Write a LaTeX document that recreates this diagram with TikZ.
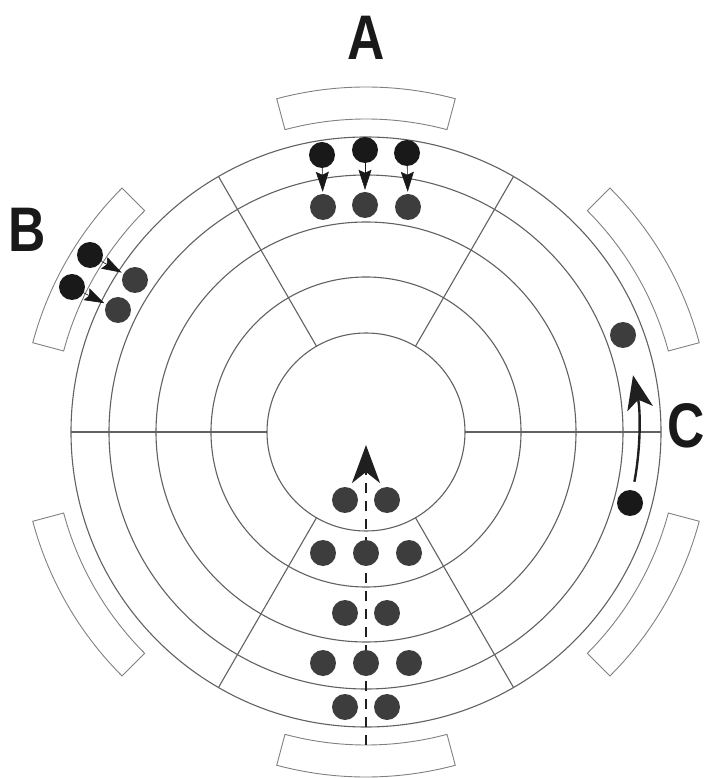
\documentclass[tikz,border=0pt]{standalone}
\usepackage{fontspec}
\setmainfont{Liberation Sans}
\usepackage{graphicx}
\usetikzlibrary{arrows.meta}
\begin{document}
\begin{tikzpicture}[x=1pt,y=1pt,
  ring/.style={draw=black!62, line width=1.1pt},
  spoke/.style={draw=black!62, line width=1.1pt},
  bar/.style={draw=black!50, line width=0.9pt},
  blackdot/.style={circle, fill=black!90, inner sep=0pt, minimum size=26pt},
  greydot/.style={circle, fill=black!76, inner sep=0pt, minimum size=26pt},
  letter/.style={font=\fontsize{63}{63}\selectfont\bfseries, inner sep=0pt, text=black!90},
  smallarrow/.style={-{Stealth[length=20pt,width=13pt,inset=3pt]}, line width=0.6pt, draw=black!90, fill=black!90, shorten >=2pt},
  bigarrow/.style={-{Stealth[length=38pt,width=28pt,inset=11pt]}, line width=2.6pt, draw=black!88},
  curvearrow/.style={-{Stealth[length=34pt,width=26pt,inset=9pt]}, line width=2.4pt, draw=black!88},
  dashline/.style={dash pattern=on 10pt off 8pt}
]
\useasboundingbox (-366,-346) rectangle (341,432);

% rings
\foreach \r in {99,155,210,257,295}
  \draw[ring] (0,0) circle[radius=\r];
% spokes
\foreach \a in {0,60,...,300}
  \draw[spoke] (\a:99) -- (\a:295);
% outer bars
\foreach \a in {15,75,135,195,255,315}
  \draw[bar] (\a:313) arc[start angle=\a, end angle=\a+30, radius=313]
    -- (\a+30:345) arc[start angle=\a+30, end angle=\a, radius=345] -- cycle;

% labels
\node[letter] (lA) at (0,394) {\scalebox{0.82}[1]{A}};
\node[letter] (lB) at (-339,202) {\scalebox{0.82}[1]{B}};
\node[letter] (lC) at (320,6) {\scalebox{0.82}[1]{C}};

% bottom column: dashed line with arrow
\coordinate (dbot) at (0,-313);
\coordinate (dtop) at (0,-13);
\draw[bigarrow, dashline] (dbot) -- (dtop);

\node[greydot] (p11) at (-21,-68) {};
\node[greydot] (p12) at (21,-68) {};
\node[greydot] (p21) at (-43,-121) {};
\node[greydot] (p22) at (0,-121) {};
\node[greydot] (p23) at (43,-121) {};
\node[greydot] (p31) at (-21,-181) {};
\node[greydot] (p32) at (21,-181) {};
\node[greydot] (p41) at (-43,-231) {};
\node[greydot] (p42) at (0,-231) {};
\node[greydot] (p43) at (43,-231) {};
\node[greydot] (p51) at (-21,-275) {};
\node[greydot] (p52) at (21,-275) {};

% A group
\node[blackdot] (a1) at (-44,277) {};
\node[blackdot] (a2) at (-1,282) {};
\node[blackdot] (a3) at (41,279) {};
\node[greydot] (ag1) at (-43,225) {};
\node[greydot] (ag2) at (-1,227) {};
\node[greydot] (ag3) at (42,225) {};
\draw[smallarrow] (a1) -- (ag1);
\draw[smallarrow] (a2) -- (ag2);
\draw[smallarrow] (a3) -- (ag3);

% B group
\node[blackdot] (b1) at (-276,177) {};
\node[blackdot] (b2) at (-294,145) {};
\node[greydot] (bg1) at (-231,152) {};
\node[greydot] (bg2) at (-248,122) {};
\draw[smallarrow] (b1) -- (bg1);
\draw[smallarrow] (b2) -- (bg2);

% C group
\node[greydot] (cg) at (257,97) {};
\node[blackdot] (c1) at (264,-71) {};
\coordinate (cs) at (-10.5:273);
\draw[curvearrow] (cs) arc[start angle=-10.5, end angle=12, radius=273];
\end{tikzpicture}
\end{document}
